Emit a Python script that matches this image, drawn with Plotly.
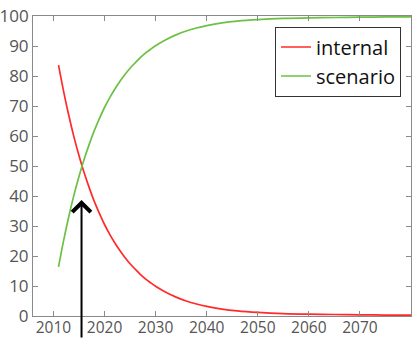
import plotly.graph_objects as go

# Share of contribution (%) by year
years = [2011, 2012, 2013, 2014, 2015, 2016, 2017, 2018, 2019, 2020,
         2021, 2022, 2023, 2024, 2025, 2026, 2027, 2028, 2029, 2030,
         2032, 2034, 2036, 2038, 2040, 2043, 2046, 2050, 2055, 2060,
         2065, 2070, 2075, 2080]
internal = [83.6, 74.8, 66.9, 59.8, 53.5, 47.8, 42.8, 38.2, 34.2, 30.5,
            27.3, 24.4, 21.8, 19.5, 17.4, 15.6, 13.9, 12.4, 11.1, 9.9,
            7.9, 6.3, 5.0, 4.0, 3.2, 2.3, 1.7, 1.2, 0.8, 0.6,
            0.5, 0.4, 0.3, 0.3]
scenario = [16.4, 25.2, 33.1, 40.2, 46.5, 52.2, 57.2, 61.8, 65.8, 69.5,
            72.7, 75.6, 78.2, 80.5, 82.6, 84.4, 86.1, 87.6, 88.9, 90.1,
            92.1, 93.7, 95.0, 96.0, 96.8, 97.7, 98.3, 98.8, 99.2, 99.4,
            99.5, 99.6, 99.7, 99.7]

x_ticks = [2010, 2020, 2030, 2040, 2050, 2060, 2070]
y_ticks = [0, 10, 20, 30, 40, 50, 60, 70, 80, 90, 100]

# Crossover point marked by the arrow
cross_year = 2015.5
arrow_tip = 38.7

font_family = "Open Sans, Lato, DejaVu Sans, sans-serif"

fig = go.Figure()
fig.add_trace(go.Scatter(x=years, y=internal, name="internal", mode="lines",
                         line=dict(color="#ff2a2a", width=1.7, shape="spline")))
fig.add_trace(go.Scatter(x=years, y=scenario, name="scenario", mode="lines",
                         line=dict(color="#6cc043", width=1.7, shape="spline")))

fig.add_annotation(x=cross_year, y=arrow_tip, xref="x", yref="y",
                   ax=0, ay=140, axref="pixel", ayref="pixel",
                   showarrow=True, arrowhead=4, arrowsize=1.8, arrowwidth=2,
                   arrowcolor="black", text="", standoff=0)

axis_common = dict(showline=True, linecolor="#8a8a8a", linewidth=1,
                   mirror="ticks", ticks="inside", ticklen=5, tickcolor="#8a8a8a",
                   showgrid=False, zeroline=False, automargin=False)

fig.update_xaxes(range=[2006, 2080], tickvals=x_ticks, ticklabelstandoff=-3,
                 tickfont=dict(family=font_family, size=15.5, color="#555555"),
                 **axis_common)
fig.update_yaxes(range=[0, 100], tickvals=y_ticks, ticklabelstandoff=0,
                 tickfont=dict(family=font_family, size=17, color="#555555"),
                 **axis_common)

fig.update_layout(
    width=412, height=339,
    margin=dict(l=33, r=1, t=16, b=23, autoexpand=False),
    paper_bgcolor="white", plot_bgcolor="white",
    showlegend=True,
    legend=dict(x=0.9735, y=0.965, xanchor="right", yanchor="top",
                bgcolor="white", bordercolor="#333333", borderwidth=1,
                font=dict(family=font_family, size=20, color="#111111"),
                itemwidth=30, tracegroupgap=0),
)

fig.write_html("out.html")
